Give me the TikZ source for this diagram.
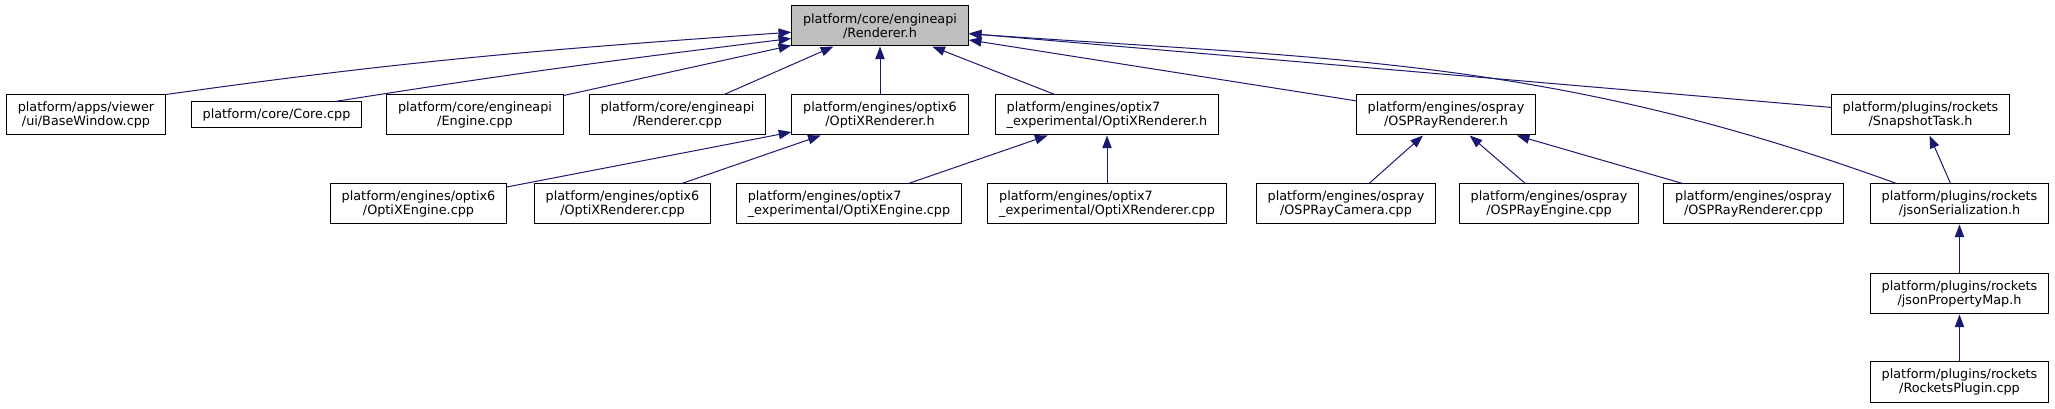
\documentclass[tikz,border=0pt]{standalone}
\usepackage{fontspec}
\setmainfont{DejaVu Sans}
\usetikzlibrary{arrows.meta,calc}
\definecolor{dgEdge}{HTML}{191970}
\definecolor{dgRoot}{HTML}{BFBFBF}

\begin{document}
\begin{tikzpicture}[x=0.75pt, y=0.75pt,
  file/.style={draw=black, line width=0.75pt, fill=white, minimum height=30pt, inner xsep=8.5pt, inner ysep=2pt, align=center, font=\fontsize{9.6pt}{10.5pt}\selectfont},
  root/.style={file, fill=dgRoot},
  oneline/.style={minimum height=19.5pt},
  lfile/.style={file, align=left},
  dep/.style={-{Triangle[length=9.5pt, width=7pt]}, line width=0.75pt, dgEdge}]
\useasboundingbox (0,0) rectangle (2055,-409);
\node[root] (rh) at (880,-26) {platform/core/engineapi\\/Renderer.h};
% ── files that include Renderer.h ──
\node[file] (bw) at (86,-115) {platform/apps/viewer\\/ui/BaseWindow.cpp};
\node[file, oneline] (core) at (276.5,-115) {platform/core/Core.cpp};
\node[file] (eng) at (475,-115) {platform/core/engineapi\\/Engine.cpp};
\node[file] (rcpp) at (677.5,-115) {platform/core/engineapi\\/Renderer.cpp};
\node[file] (o6h) at (880,-115) {platform/engines/optix6\\/OptiXRenderer.h};
\node[lfile] (o7h) at (1107,-115) {platform/engines/optix7\\\_experimental/OptiXRenderer.h};
\node[file] (osph) at (1446,-115) {platform/engines/ospray\\/OSPRayRenderer.h};
\node[file] (st) at (1920.5,-115) {platform/plugins/rockets\\/SnapshotTask.h};
% ── second level ──
\node[file] (o6e) at (418.5,-204) {platform/engines/optix6\\/OptiXEngine.cpp};
\node[file] (o6r) at (622.5,-204) {platform/engines/optix6\\/OptiXRenderer.cpp};
\node[lfile] (o7e) at (849,-204) {platform/engines/optix7\\\_experimental/OptiXEngine.cpp};
\node[lfile] (o7r) at (1107,-204) {platform/engines/optix7\\\_experimental/OptiXRenderer.cpp};
\node[file] (ocam) at (1346,-204) {platform/engines/ospray\\/OSPRayCamera.cpp};
\node[file] (oeng) at (1549,-204) {platform/engines/ospray\\/OSPRayEngine.cpp};
\node[file] (orcpp) at (1753.5,-204) {platform/engines/ospray\\/OSPRayRenderer.cpp};
\node[file] (js) at (1959.5,-204) {platform/plugins/rockets\\/jsonSerialization.h};
\node[file] (jpm) at (1959.5,-294) {platform/plugins/rockets\\/jsonPropertyMap.h};
\node[file] (rp) at (1959.5,-382) {platform/plugins/rockets\\/RocketsPlugin.cpp};
\foreach \a/\b in {eng/rh,rcpp/rh,o6h/rh,o7h/rh,osph/rh,st/rh,o6e/o6h,o6r/o6h,o7e/o7h,o7r/o7h,ocam/osph,oeng/osph,orcpp/osph,js/st,jpm/js,rp/jpm}{\draw[dep] (\a) -- (\b);}
\draw[dep] (bw.north east) to[out=8, in=184] (rh.184.5);
\draw[dep] (core.13) to[out=9, in=187] (rh.188);
\draw[dep] (js.162) to[out=160, in=-4] (rh.-5);
\end{tikzpicture}
\end{document}
